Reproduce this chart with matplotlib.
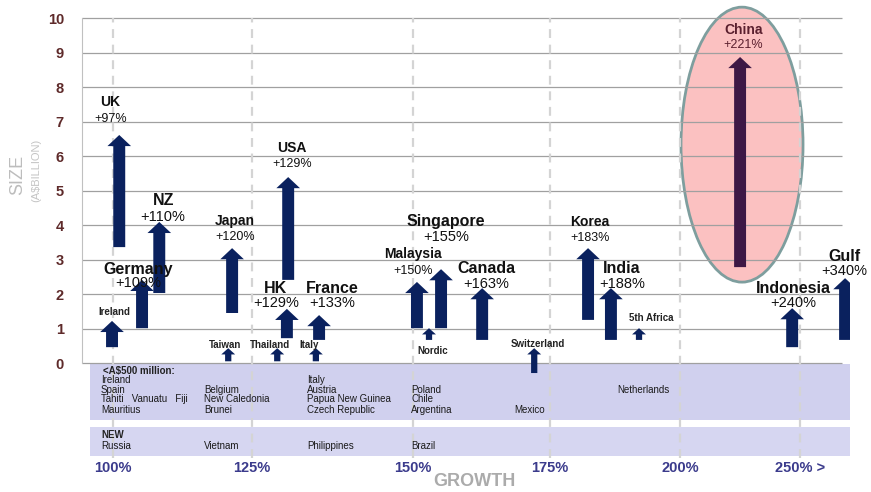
import numpy as np
import matplotlib
matplotlib.use("Agg")
import matplotlib.pyplot as plt
from matplotlib.patches import FancyArrowPatch, Ellipse, ArrowStyle

plt.rcParams["font.family"] = ["Liberation Sans", "DejaVu Sans"]

# growth axis: the ticks are not evenly spread in the original slide
growth_ticks = [100, 125, 150, 175, 200, 250]
growth_tick_labels = ["100%", "125%", "150%", "175%", "200%", "250% >"]
tick_spots = [113, 252, 413, 550, 680, 800]

# markets shown as arrows (size in A$ billion, from -> to)
countries = ["UK", "Ireland", "Germany", "NZ", "Japan", "Taiwan", "Thailand", "Italy",
             "USA", "HK", "France", "Malaysia", "Nordic", "Singapore", "Canada",
             "Switzerland", "Korea", "India", "5th Africa", "China", "Indonesia", "Gulf"]
growth_text = ["+97%", "", "+109%", "+110%", "+120%", "", "", "",
               "+129%", "+129%", "+133%", "+150%", "", "+155%", "+163%",
               "", "+183%", "+188%", "", "+221%", "+240%", "+340%"]
arrow_x = [101.1, 99.8, 105.2, 108.3, 121.4, 120.7, 128.9, 134.9,
           130.6, 130.4, 135.4, 150.7, 152.9, 155.1, 162.6,
           172.1, 182.3, 186.7, 192.1, 225.0, 246.7, 268.75]
size_from = [3.36, 0.46, 1.01, 2.03, 1.45, 0.05, 0.05, 0.05,
             2.41, 0.72, 0.67, 1.01, 0.67, 1.01, 0.67,
             -0.29, 1.25, 0.67, 0.67, 2.78, 0.46, 0.67]
size_to = [6.61, 1.22, 2.41, 4.09, 3.33, 0.43, 0.43, 0.43,
           5.39, 1.57, 1.39, 2.35, 1.01, 2.72, 2.17,
           0.43, 3.33, 2.17, 1.01, 8.87, 1.59, 2.46]

# label placement
label_x = [99.5, 100.2, 104.5, 109.0, 121.9, 120.1, 127.8, 133.9,
           131.2, 128.7, 137.4, 150.0, 153.6, 156.0, 163.3,
           172.8, 182.7, 188.8, 194.4, 226.3, 247.1, 268.6]
name_y = [7.56, 1.48, 2.72, 4.70, 4.12, 0.52, 0.52, 0.52,
          6.23, 2.17, 2.17, 3.16, 0.35, 4.09, 2.75,
          0.55, 4.09, 2.75, 1.30, 9.65, 2.17, 3.10]
pct_y = [7.07, None, 2.32, 4.23, 3.65, None, None, None,
         5.77, 1.74, 1.74, 2.67, None, 3.65, 2.29,
         None, 3.62, 2.29, None, 9.22, 1.74, 2.67]
minor_markets = ["Taiwan", "Thailand", "Italy", "Nordic", "Switzerland", "5th Africa"]
big_names = ["Germany", "NZ", "HK", "France", "Singapore", "Canada", "India", "Indonesia", "Gulf"]

# markets under A$500 million, listed in the lower bands
small_names = ["Ireland", "Spain", "Tahiti   Vanuatu   Fiji", "Mauritius",
               "Belgium", "New Caledonia", "Brunei",
               "Italy", "Austria", "Papua New Guinea", "Czech Republic",
               "Poland", "Chile", "Argentina", "Mexico", "Netherlands"]
small_col = [0, 0, 0, 0, 1, 1, 1, 2, 2, 2, 2, 3, 3, 3, 4, 5]
small_row = [1, 2, 3, 4, 2, 3, 4, 1, 2, 3, 4, 2, 3, 4, 4, 2]
new_names = ["Russia", "Vietnam", "Philippines", "Brazil"]
band_col_x = [97.8, 116.4, 133.5, 149.7, 168.4, 187.9]
band_row_y = [-0.23, -0.50, -0.78, -1.05, -1.36]

g_ext = np.r_[0, growth_ticks, 400]
s_ext = np.r_[113 - 100 * 139 / 25, tick_spots, 800 + 150 * 120 / 50]


def fwd(x):
    return np.interp(x, g_ext, s_ext)


def inv(s):
    return np.interp(s, s_ext, g_ext)


fig = plt.figure(figsize=(8.71, 4.92), dpi=100)
ax = fig.add_axes([82 / 871, 1 - 457.9 / 492, 768 / 871, 441.6 / 492])
ax.set_xscale("function", functions=(fwd, inv))
ax.set_xlim(94.4, 270.8)
ax.set_ylim(-2.75, 10.05)

# bands
ax.axhspan(-1.65, -0.03, xmin=0.0104, xmax=1, color="#D0D0EE", lw=0, zorder=0.3)
ax.axhspan(-2.70, -1.86, xmin=0.0104, xmax=1, color="#D6D6F1", lw=0, zorder=0.3)

# grid
ax.hlines(range(11), 94.4, 267.5, color="#A0A0A0", lw=0.9, zorder=1)
ax.vlines(growth_ticks, -2.75, 10, colors="#D4D4D4", linestyles=(0, (4, 3)), lw=1.6, zorder=1.2)

# China highlight
ax.add_patch(Ellipse((225.8, 6.33), 50.85, 7.97, facecolor="#FBC1C1",
                     edgecolor="#7E9E9E", lw=2, zorder=0.8, clip_on=False))

big_arrow = ArrowStyle.Simple(head_length=8, head_width=17, tail_width=8.6)
small_arrow = ArrowStyle.Simple(head_length=4.5, head_width=10, tail_width=4.5)

for i, c in enumerate(countries):
    style = small_arrow if c in minor_markets else big_arrow
    col = "#3D1845" if c == "China" else "#0A215E"
    ax.add_patch(FancyArrowPatch((arrow_x[i], size_from[i]), (arrow_x[i], size_to[i]),
                                 arrowstyle=style, mutation_scale=1, facecolor=col,
                                 edgecolor="none", shrinkA=0, shrinkB=0, zorder=3))
    tcol = "#5A1F2E" if c == "China" else "#111111"
    if pct_y[i] is None:
        ax.text(label_x[i], name_y[i], c, ha="center", va="center", fontsize=7,
                fontweight="bold", color="#222222", zorder=4)
    else:
        fs = 11.5 if c in big_names else 10
        ax.text(label_x[i], name_y[i], c, ha="center", va="center", fontsize=fs,
                fontweight="bold", color=tcol, zorder=4)
        ax.text(label_x[i], pct_y[i], growth_text[i], ha="center", va="center",
                fontsize=fs - 1, color=tcol, zorder=4)

# band texts
ax.text(98.2, band_row_y[0], r"<A\$500 million:", fontsize=7, fontweight="bold",
        color="#222222", va="center", ha="left")
for name, c, r in zip(small_names, small_col, small_row):
    ax.text(band_col_x[c], band_row_y[r], name, fontsize=7, color="#1A1A1A",
            va="center", ha="left")
ax.text(band_col_x[0], -2.09, "NEW", fontsize=7, fontweight="bold", color="#222222",
        va="center", ha="left")
for c, name in enumerate(new_names):
    ax.text(band_col_x[c], -2.41, name, fontsize=7, color="#1A1A1A", va="center", ha="left")

# axes styling
ax.set_yticks(range(11))
ax.set_xticks(growth_ticks)
ax.set_xticklabels(growth_tick_labels)
ax.tick_params(axis="y", length=0, pad=13, labelsize=10.5, labelcolor="#5E2A2A")
ax.tick_params(axis="x", length=0, pad=2, labelsize=10.5, labelcolor="#3B3B8C")
for lab in ax.get_xticklabels() + ax.get_yticklabels():
    lab.set_fontweight("bold")
for s in ["top", "right", "bottom"]:
    ax.spines[s].set_visible(False)
ax.spines["left"].set_color("#C0C0C0")
ax.spines["left"].set_bounds(0, 10)

fig.text(18 / 871, 1 - 175 / 492, "SIZE", rotation=90, ha="center", va="center",
         fontsize=13, color="#BDBDBD")
fig.text(36 / 871, 1 - 170 / 492, r"(A\$BILLION)", rotation=90, ha="center", va="center",
         fontsize=8, color="#C4C4C4")
fig.text(474 / 871, 1 - 481 / 492, "GROWTH", ha="center", va="center",
         fontsize=13, fontweight="bold", color="#ABABAB")

fig.savefig("out.png", dpi=100)
